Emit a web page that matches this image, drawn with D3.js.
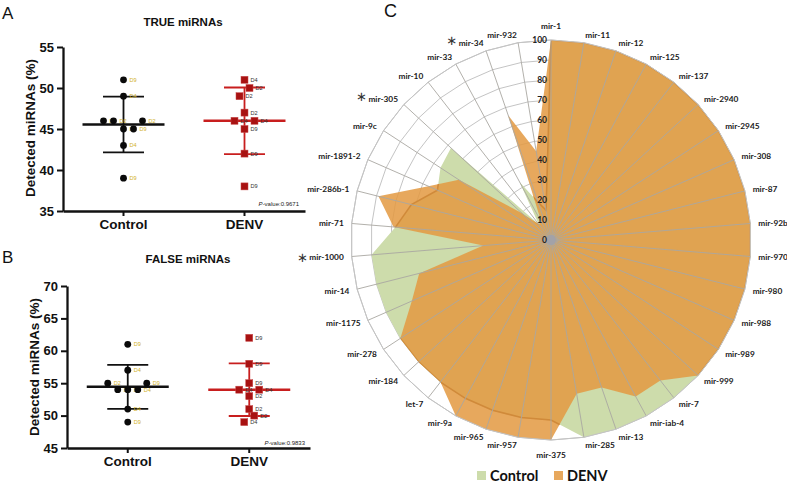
<!DOCTYPE html>
<html><head><meta charset="utf-8">
<script src="https://cdn.jsdelivr.net/npm/d3@7"></script>
<style>body{margin:0;background:#fff}svg{display:block}</style>
</head><body>
<svg id="c" width="787" height="484"></svg>
<script>
// ---------------- DATA ----------------
const groups = ["Control", "DENV"];
// Panel A: TRUE miRNAs (% detected)
const trueControl = [51, 49, 46, 46, 46, 45, 45, 43, 39];
const trueControlDay = ["D9", "D4", "D4", "D2", "D2", "D2", "D9", "D4", "D9"];
const trueDenv = [51, 50, 49, 47, 46, 46, 45, 42, 38];
const trueDenvDay = ["D4", "D2", "D2", "D2", "D4", "D4", "D9", "D9", "D9"];
const trueTicks = [35, 40, 45, 50, 55];
const truePValue = "0.9671";
// Panel B: FALSE miRNAs (% detected)
const falseControl = [61, 57, 55, 55, 54, 54, 54, 51, 49];
const falseControlDay = ["D9", "D4", "D2", "D9", "D2", "D2", "D4", "D4", "D9"];
const falseDenv = [62, 58, 55, 54, 54, 53, 51, 50, 49];
const falseDenvDay = ["D9", "D9", "D9", "D4", "D4", "D2", "D2", "D2", "D4"];
const falseTicks = [45, 50, 55, 60, 65, 70];
const falsePValue = "0.9833";
// Panel C: radar
const miRNAs = ["mir-1","mir-11","mir-12","mir-125","mir-137","mir-2940","mir-2945","mir-308","mir-87","mir-92b",
  "mir-970","mir-980","mir-988","mir-989","mir-999","mir-7","mir-iab-4","mir-13","mir-285","mir-375",
  "mir-957","mir-965","mir-9a","let-7","mir-184","mir-278","mir-1175","mir-14","mir-1000","mir-71",
  "mir-286b-1","mir-1891-2","mir-9c","mir-305","mir-10","mir-33","mir-34","mir-932"];
const radarControl = [100,100,100,100,100,100,100,100,100,100,
  100,100,100,100,100,100,100,100,100,90,
  90,90,90,90,90,90,90,90,90,78,
  72,62,66,68,10,33,20,15];
const radarDenv = [100,100,100,100,100,100,100,100,100,100,
  100,100,100,100,100,89,89,78,78,100,
  100,100,100,90,90,90,76,68,34,79,
  89,67,55,20,10,10,66,45];
const significant = ["mir-34", "mir-305", "mir-1000"];
const radarTicks = [0,10,20,30,40,50,60,70,80,90,100];

// swarm slots (layout only, in 10px steps)
const slotsTrueControl = [0,0,-2,-1,1.9,0,1,0,0];
const slotsTrueDenv = [0,0.5,-0.5,0,-1,1,0,0,0];
const slotsFalseControl = [0,0,-2,1.9,-1,0,1,0,0];
const slotsFalseDenv = [0,0,0,-1,1,0,0,0.5,-0.5];

// ---------------- DRAW ----------------
const svg = d3.select("#c");
const SANS = "'Liberation Sans', Arial, sans-serif";
const CAL = "Lato, 'Open Sans', sans-serif";
const GREEN = "#cddcab", ORANGE = "#e39a42", OP = 0.86;

function panel(cfg) {
  const g = svg.append("g");
  const y = d3.scaleLinear().domain(cfg.yDomain).range(cfg.yRange);
  const x = d3.scaleBand().domain(groups).range(cfg.xRange);
  const yAx = g.append("g").attr("transform", `translate(${cfg.xRange[0]},0)`)
    .call(d3.axisLeft(y).tickValues(cfg.ticks).tickSize(6).tickSizeOuter(0).tickPadding(3));
  const xAx = g.append("g").attr("transform", `translate(0,${cfg.yRange[0]})`)
    .call(d3.axisBottom(x).tickSize(5).tickSizeOuter(0).tickPadding(3));
  [yAx, xAx].forEach(a => {
    a.select(".domain").attr("stroke", "#111").attr("stroke-width", 2.3);
    a.selectAll(".tick line").attr("stroke", "#111").attr("stroke-width", 2);
    a.selectAll("text").attr("fill", "#111").attr("font-family", SANS).attr("font-weight", "bold");
  });
  yAx.selectAll("text").attr("font-size", 13);
  xAx.selectAll("text").attr("font-size", 13.5);

  g.append("text").attr("transform", `translate(${cfg.ylabX},${cfg.ylabY}) rotate(-90)`)
    .attr("text-anchor", "middle").attr("font-family", SANS).attr("font-weight", "bold")
    .attr("font-size", 13.5).attr("fill", "#111").text("Detected miRNAs (%)");
  g.append("text").attr("x", cfg.titleX).attr("y", cfg.titleY).attr("text-anchor", "middle")
    .attr("font-family", SANS).attr("font-weight", "bold").attr("font-size", 11.5)
    .attr("fill", "#111").text(cfg.title);
  const pv = g.append("text").attr("x", cfg.pX).attr("y", cfg.pY).attr("text-anchor", "end")
    .attr("font-family", SANS).attr("font-size", 6).attr("fill", "#222");
  pv.append("tspan").attr("font-style", "italic").text("P");
  pv.append("tspan").text("-value:" + cfg.p);
  g.append("text").attr("x", 2).attr("y", cfg.letterY).attr("font-family", SANS)
    .attr("font-size", 17).attr("fill", "#111").text(cfg.letter);

  const series = [
    {name: "Control", vals: cfg.ctrl, days: cfg.ctrlDay, slots: cfg.ctrlSlots, col: "#111", lab: "#d2b22a"},
    {name: "DENV", vals: cfg.denv, days: cfg.denvDay, slots: cfg.denvSlots, col: "#c81e1e", lab: "#333"}
  ];
  series.forEach(s => {
    const cx = x(s.name) + x.bandwidth() / 2;
    const m = d3.mean(s.vals), sd = d3.deviation(s.vals);
    const eg = g.append("g").attr("stroke", s.col);
    eg.append("line").attr("x1", cx).attr("x2", cx).attr("y1", y(m + sd)).attr("y2", y(m - sd)).attr("stroke-width", 1.8);
    [m + sd, m - sd].forEach(v => eg.append("line").attr("x1", cx - 20.5).attr("x2", cx + 20.5)
      .attr("y1", y(v)).attr("y2", y(v)).attr("stroke-width", 1.8));
    eg.append("line").attr("x1", cx - 41).attr("x2", cx + 41).attr("y1", y(m)).attr("y2", y(m)).attr("stroke-width", 2.6);
    const pg = g.append("g");
    s.vals.forEach((v, i) => {
      const px = cx + s.slots[i] * 10, py = y(v);
      if (s.name === "Control") {
        pg.append("circle").attr("cx", px).attr("cy", py).attr("r", 3.4).attr("fill", "#0a0a0a");
      } else {
        pg.append("rect").attr("x", px - 3.5).attr("y", py - 3.5).attr("width", 7).attr("height", 7)
          .attr("fill", "#a81212").attr("stroke", "#c84a4a").attr("stroke-width", 0.5);
      }
      pg.append("text").attr("x", px + 6).attr("y", py + 2).attr("font-family", SANS)
        .attr("font-size", 5.6).attr("fill", s.lab).text(s.days[i]);
    });
  });
}

panel({yDomain: [35, 55], yRange: [211, 47], xRange: [63, 305], ticks: trueTicks,
  ctrl: trueControl, ctrlDay: trueControlDay, ctrlSlots: slotsTrueControl,
  denv: trueDenv, denvDay: trueDenvDay, denvSlots: slotsTrueDenv,
  title: "TRUE miRNAs", titleX: 183, titleY: 26, p: truePValue, pX: 299, pY: 206,
  ylabX: 35, ylabY: 128, letter: "A", letterY: 19});
panel({yDomain: [45, 70], yRange: [448, 286], xRange: [67, 310], ticks: falseTicks,
  ctrl: falseControl, ctrlDay: falseControlDay, ctrlSlots: slotsFalseControl,
  denv: falseDenv, denvDay: falseDenvDay, denvSlots: slotsFalseDenv,
  title: "FALSE miRNAs", titleX: 188, titleY: 263, p: falsePValue, pX: 305, pY: 445,
  ylabX: 39, ylabY: 367, letter: "B", letterY: 263});

// ---- Radar ----
const RC = {x: 551, y: 240};
const N = miRNAs.length;
const ang = d3.scaleLinear().domain([0, N]).range([0, 2 * Math.PI]);
const rad = d3.scaleLinear().domain([0, 100]).range([0, 200]);
const rg = svg.append("g").attr("transform", `translate(${RC.x},${RC.y})`);
const radial = d3.lineRadial().angle((d, i) => ang(i)).radius(d => rad(d)).curve(d3.curveLinearClosed);

radarTicks.filter(t => t > 0).forEach(t => {
  rg.append("path").attr("d", radial(miRNAs.map(() => t))).attr("fill", "none")
    .attr("stroke", "#c4c4c4").attr("stroke-width", 1);
});
rg.append("path").attr("d", radial(radarControl)).attr("fill", GREEN);
rg.append("path").attr("d", radial(radarDenv)).attr("fill", ORANGE).attr("fill-opacity", OP);
// control outline seen through the DENV fill
svg.append("clipPath").attr("id", "denvClip").append("path").attr("d", radial(radarDenv));
rg.append("path").attr("d", radial(radarControl)).attr("fill", "none").attr("clip-path", "url(#denvClip)")
  .attr("stroke", "#d08a3a").attr("stroke-width", 1.6);
miRNAs.forEach((m, i) => {
  const a = ang(i);
  rg.append("line").attr("x1", 0).attr("y1", 0)
    .attr("x2", rad(100) * Math.sin(a)).attr("y2", -rad(100) * Math.cos(a))
    .attr("stroke", "#a9a7a2").attr("stroke-width", 0.9);
});
rg.append("path").attr("d", radial(miRNAs.map(() => 100))).attr("fill", "none")
  .attr("stroke", "#c4c4c4").attr("stroke-width", 1);
rg.append("circle").attr("r", 5).attr("fill", "#a2a2a8");

radarTicks.forEach(t => {
  rg.append("text").attr("x", -4).attr("y", -rad(t)).attr("dy", "0.35em").attr("text-anchor", "end")
    .attr("font-family", CAL).attr("font-weight", "bold").attr("font-size", 8.5).attr("fill", "#222").text(t);
});

miRNAs.forEach((m, i) => {
  const a = ang(i), s = Math.sin(a), c = Math.cos(a);
  const anchor = Math.abs(s) < 0.1 ? "middle" : (s > 0 ? "start" : "end");
  const extra = anchor === "middle" ? (c > 0 ? -6 : 7) : 0;
  const lx = 208 * s, ly = -208 * c + extra;
  const t = rg.append("text").attr("x", lx).attr("y", ly).attr("dy", "0.35em").attr("text-anchor", anchor)
    .attr("font-family", CAL).attr("font-weight", "bold").attr("font-size", 8.3).attr("fill", "#1a1a1a").text(m);
  if (significant.includes(m)) {
    const w = t.node().getComputedTextLength();
    const left = anchor === "end" ? lx - w : lx;
    rg.append("text").attr("x", left - 1.5).attr("y", ly - 4 * Math.max(0, c) + 0.5).attr("dy", "0.35em")
      .attr("text-anchor", "end").attr("font-family", "'DejaVu Sans', sans-serif")
      .attr("font-size", 13).attr("fill", "#333").text("\u2217");
  }
});

svg.append("text").attr("x", 384).attr("y", 17).attr("font-family", SANS).attr("font-size", 18)
  .attr("fill", "#111").text("C");

// legend
const legend = [
  {name: groups[0], fill: GREEN, op: 1, x: 477},
  {name: groups[1], fill: ORANGE, op: OP, x: 554}
];
legend.forEach(l => {
  svg.append("rect").attr("x", l.x).attr("y", 471).attr("width", 9).attr("height", 9)
    .attr("fill", l.fill).attr("fill-opacity", l.op);
  svg.append("text").attr("x", l.x + 13).attr("y", 481).attr("font-family", CAL).attr("font-weight", "bold")
    .attr("font-size", 14.5).attr("fill", "#111").text(l.name);
});
</script>
</body></html>
